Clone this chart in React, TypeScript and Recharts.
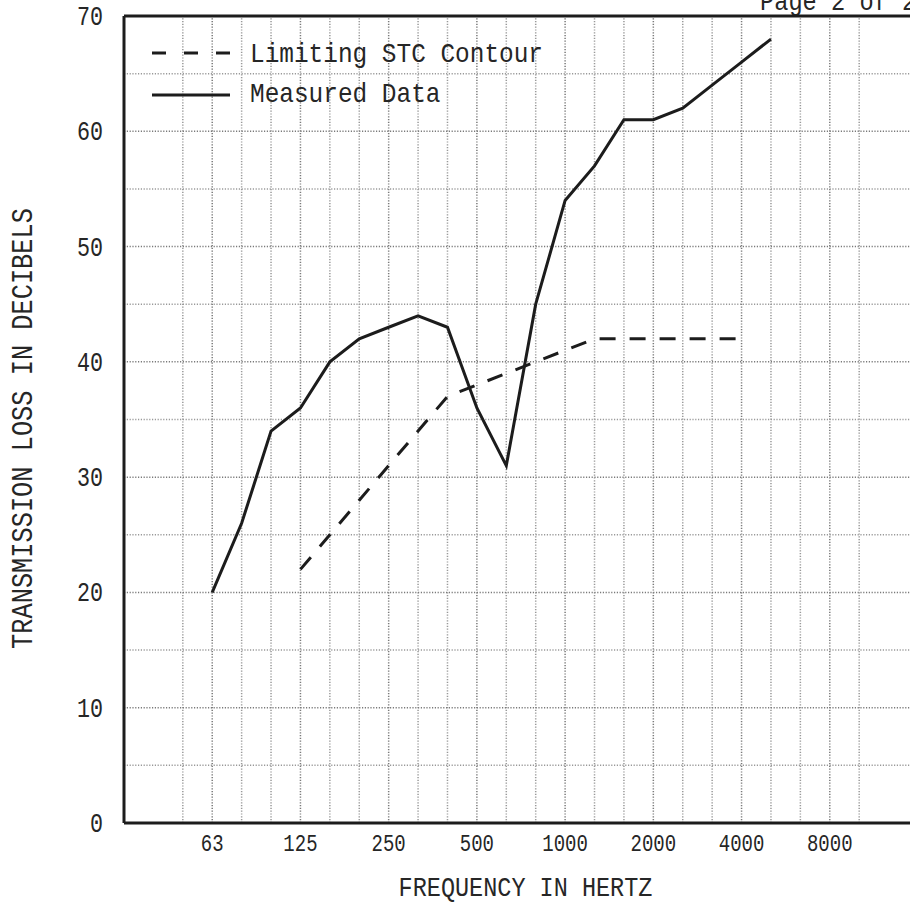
import React from "react";
import { LineChart, Line, XAxis, YAxis, ReferenceLine, Legend, Label } from "recharts";

// 1/3-octave band centre frequencies drawn as vertical grid lines
const BANDS = ["50", "63", "80", "100", "125", "160", "200", "250", "315", "400", "500", "630", "800", "1000", "1250", "1600", "2000", "2500", "3150", "4000", "5000", "6300", "8000", "10000"];
const TICK_LABELS = ["63", "125", "250", "500", "1000", "2000", "4000", "8000"];

const MEASURED_BANDS = ["63", "80", "100", "125", "160", "200", "250", "315", "400", "500", "630", "800", "1000", "1250", "1600", "2000", "2500", "3150", "4000", "5000"];
const MEASURED_VALUES = [20, 26, 34, 36, 40, 42, 43, 44, 43, 36, 31, 45, 54, 57, 61, 61, 62, 64, 66, 68];

const STC_BANDS = ["125", "160", "200", "250", "315", "400", "500", "630", "800", "1000", "1250", "1600", "2000", "2500", "3150", "4000"];
const STC_VALUES = [22, 25, 28, 31, 34, 37, 38, 39, 40, 41, 42, 42, 42, 42, 42, 42];

const Y_TICKS = [0, 10, 20, 30, 40, 50, 60, 70];
const GRID_DB = [5, 10, 15, 20, 25, 30, 35, 40, 45, 50, 55, 60, 65];

const X_MIN = -2;
const X_MAX = BANDS.length + 1;

const data = BANDS.map((b, i) => {
  const mi = MEASURED_BANDS.indexOf(b);
  const si = STC_BANDS.indexOf(b);
  return {
    idx: i,
    band: b,
    measured: mi >= 0 ? MEASURED_VALUES[mi] : null,
    stc: si >= 0 ? STC_VALUES[si] : null,
  };
});
const X_TICKS = TICK_LABELS.map((t) => BANDS.indexOf(t));

const FONT = "'Liberation Mono', 'DejaVu Sans Mono', monospace";
const INK = "#1c1c1c";
const TEXT = "#262626";

const XTick = (props: any) => {
  const { x, y, payload } = props;
  const label = BANDS[payload.value] ?? "";
  return (
    <text x={x} y={y + 28} textAnchor="middle" fontFamily={FONT} fontSize={24} fill={TEXT}
      textLength={label.length * 11.4} lengthAdjust="spacingAndGlyphs">
      {label}
    </text>
  );
};

const YTick = (props: any) => {
  const { x, y, payload } = props;
  const label = String(payload.value);
  return (
    <text x={x - 21} y={y + 9} textAnchor="end" fontFamily={FONT} fontSize={27} fill={TEXT}
      textLength={label.length * 13} lengthAdjust="spacingAndGlyphs">
      {label}
    </text>
  );
};

const XTitle = (props: any) => {
  const vb = props.viewBox || { x: 0, y: 0, width: 0, height: 0 };
  const t = "FREQUENCY IN HERTZ";
  return (
    <text x={vb.x + vb.width / 2 + 4.5} y={vb.y + 73} textAnchor="middle" fontFamily={FONT} fontSize={28} fill={TEXT}
      textLength={t.length * 14.1} lengthAdjust="spacingAndGlyphs">
      {t}
    </text>
  );
};

const YTitle = (props: any) => {
  const vb = props.viewBox || { x: 0, y: 0, width: 0, height: 0 };
  const t = "TRANSMISSION LOSS IN DECIBELS";
  const cx = vb.x + 32;
  const cy = vb.y + vb.height / 2 + 9;
  return (
    <text x={cx} y={cy} textAnchor="middle" fontFamily={FONT} fontSize={29} fill={TEXT}
      transform={`rotate(-90, ${cx}, ${cy})`}
      textLength={t.length * 15.2} lengthAdjust="spacingAndGlyphs">
      {t}
    </text>
  );
};

const renderLegend = (props: any) => {
  const payload = props.payload || [];
  const lineY = [53, 95];
  const baseY = [62, 102];
  return (
    <svg width={600} height={120} style={{ display: "block" }}>
      {payload.map((p: any, i: number) => (
        <g key={p.value}>
          <line x1={152} x2={230} y1={lineY[i]} y2={lineY[i]} stroke={INK} strokeWidth={3}
            strokeDasharray={p.dataKey === "stc" ? "14 18" : undefined} />
          <text x={250} y={baseY[i]} fontFamily={FONT} fontSize={28} fill={TEXT}
            textLength={String(p.value).length * 14.65} lengthAdjust="spacingAndGlyphs">
            {p.value}
          </text>
        </g>
      ))}
    </svg>
  );
};

export default function App() {
  return (
    <div style={{ position: "absolute", left: 0, top: 0, width: 910, height: 905, overflow: "hidden", background: "#ffffff" }}>
      <svg width={910} height={20} style={{ position: "absolute", left: 0, top: 0 }}>
        <text x={760} y={10} fontFamily={FONT} fontSize={28} fill={TEXT}
          textLength={11 * 14.2} lengthAdjust="spacingAndGlyphs">Page 2 of 2</text>
      </svg>
      <LineChart width={960} height={905} data={data} margin={{ top: 16, right: 42, bottom: 0, left: 0 }}>
        {BANDS.map((b, i) => (
          <ReferenceLine key={"v" + b} x={i} stroke={TICK_LABELS.includes(b) ? "#7a7a7a" : "#999999"}
            strokeWidth={1.5} strokeDasharray="1.2 1.6" />
        ))}
        {GRID_DB.map((v) => (
          <ReferenceLine key={"h" + v} y={v} stroke={v % 10 === 0 ? "#7a7a7a" : "#999999"}
            strokeWidth={1.5} strokeDasharray="1.2 1.6" />
        ))}
        <XAxis type="number" dataKey="idx" domain={[X_MIN, X_MAX]} ticks={X_TICKS} interval={0}
          allowDataOverflow tickLine={false} tickSize={0} tickMargin={0} height={82}
          axisLine={{ stroke: INK, strokeWidth: 3 }} tick={<XTick />}>
          <Label content={<XTitle />} />
        </XAxis>
        <YAxis type="number" domain={[0, 70]} ticks={Y_TICKS} interval={0} allowDataOverflow
          tickLine={false} tickSize={0} tickMargin={0} width={124}
          axisLine={{ stroke: INK, strokeWidth: 3 }} tick={<YTick />}>
          <Label content={<YTitle />} />
        </YAxis>
        <ReferenceLine y={70} stroke={INK} strokeWidth={3} />
        <ReferenceLine x={X_MAX} stroke={INK} strokeWidth={3} />
        <Line dataKey="stc" name="Limiting STC Contour" stroke={INK} strokeWidth={3} strokeDasharray="16 14"
          dot={false} activeDot={false} isAnimationActive={false} connectNulls={false} />
        <Line dataKey="measured" name="Measured Data" stroke={INK} strokeWidth={3}
          dot={false} activeDot={false} isAnimationActive={false} connectNulls={false} />
        <Legend layout="vertical" align="center" verticalAlign="middle" content={renderLegend}
          wrapperStyle={{ left: 0, top: 0, width: 600, height: 120 }} />
      </LineChart>
    </div>
  );
}
